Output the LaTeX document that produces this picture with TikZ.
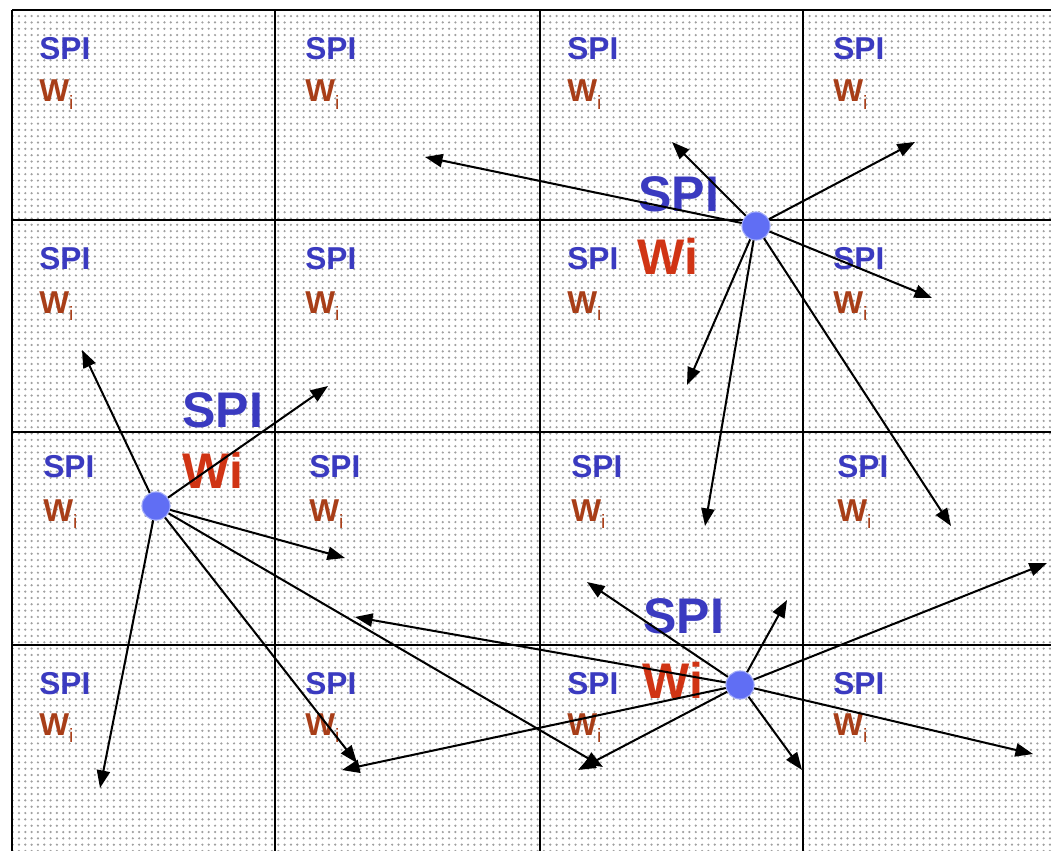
\documentclass[tikz,border=0pt]{standalone}
\usepackage{fontspec}
\setmainfont{Liberation Sans}
\usetikzlibrary{arrows.meta,patterns.meta}

\definecolor{spiblue}{RGB}{58,58,192}
\definecolor{wbrown}{RGB}{168,62,24}
\definecolor{wred}{RGB}{208,52,20}
\definecolor{hubfill}{RGB}{96,110,244}
\definecolor{hubrim}{RGB}{160,170,250}
\definecolor{dotgray}{RGB}{160,160,160}

\newcommand{\wsub}[1]{\raisebox{-4.5pt}{\fontsize{11pt}{11pt}\selectfont\mdseries #1}}

\begin{document}
\begin{tikzpicture}[x=0.02cm,y=-0.02cm,
  gridline/.style={line width=1.2pt,black},
  cellspi/.style={anchor=base west,inner sep=0pt,text=spiblue,font=\fontsize{18pt}{18pt}\selectfont\bfseries},
  cellw/.style={anchor=base west,inner sep=0pt,text=wbrown,font=\fontsize{18pt}{18pt}\selectfont\bfseries},
  bigspi/.style={anchor=base west,inner sep=0pt,text=spiblue,font=\fontsize{28.5pt}{28.5pt}\selectfont\bfseries},
  bigw/.style={anchor=base west,inner sep=0pt,text=wred,font=\fontsize{28.5pt}{28.5pt}\selectfont\bfseries},
  hub/.style={circle,fill=hubfill,draw=hubrim,line width=0.6pt,minimum size=16pt,inner sep=0pt},
  ray/.style={line width=1.15pt,black,-{Triangle[length=10pt,width=7.5pt]}}]

\useasboundingbox (0,0) rectangle (1051,851);
\fill[white] (0,0) rectangle (1051,851);

% dotted field
\fill[pattern={Dots[distance=3.6pt,radius=0.7pt]},pattern color=dotgray] (12,10) rectangle (1051,851);

% grid
\foreach \gx in {12,275,540,803} \draw[gridline] (\gx,10) -- (\gx,851);
\foreach \gy in {10,220,432,645} \draw[gridline] (12,\gy) -- (1051,\gy);

% labels in every cell
\foreach \r/\sy/\wy/\dx in {0/60/102/0,1/270/313/0,2/477/521/4,3/694/735/0}
  \foreach \c/\cx in {0/39,1/305,2/567,3/833} {
    \node[cellspi] (spi-\r-\c) at (\cx+\dx,\sy) {SPI};
    \node[cellw] (w-\r-\c) at (\cx+\dx,\wy) {W\wsub{i}};
  }

% the three sources and their labels
\node[bigspi] (h1spi) at (638,212) {SPI};
\node[bigw]   (h1w)   at (637,275) {Wi};
\node[bigspi] (h2spi) at (182,427) {SPI};
\node[bigw]   (h2w)   at (182,488) {Wi};
\node[bigspi] (h3spi) at (643,633) {SPI};
\node[bigw]   (h3w)   at (642,698) {Wi};

\node[hub] (h1) at (756,226) {};
\node[hub] (h2) at (156,506) {};
\node[hub] (h3) at (740,685) {};

% rays from each source
\foreach \n/\px/\py in {a/672/142,b/425/157,c/915/142,d/932/298,e/687/385,f/705/526,g/951/526} {
  \coordinate (h1-\n) at (\px,\py);
  \draw[ray] (h1) -- (h1-\n);
}
\foreach \n/\px/\py in {a/82/350,b/328/386,c/345/558,d/100/788,e/357/763,f/603/767} {
  \coordinate (h2-\n) at (\px,\py);
  \draw[ray] (h2) -- (h2-\n);
}
\foreach \n/\px/\py in {a/587/582,b/787/600,c/1047/563,d/1033/754,e/802/770,f/355/617,g/342/770,h/578/770} {
  \coordinate (h3-\n) at (\px,\py);
  \draw[ray] (h3) -- (h3-\n);
}

\end{tikzpicture}
\end{document}
